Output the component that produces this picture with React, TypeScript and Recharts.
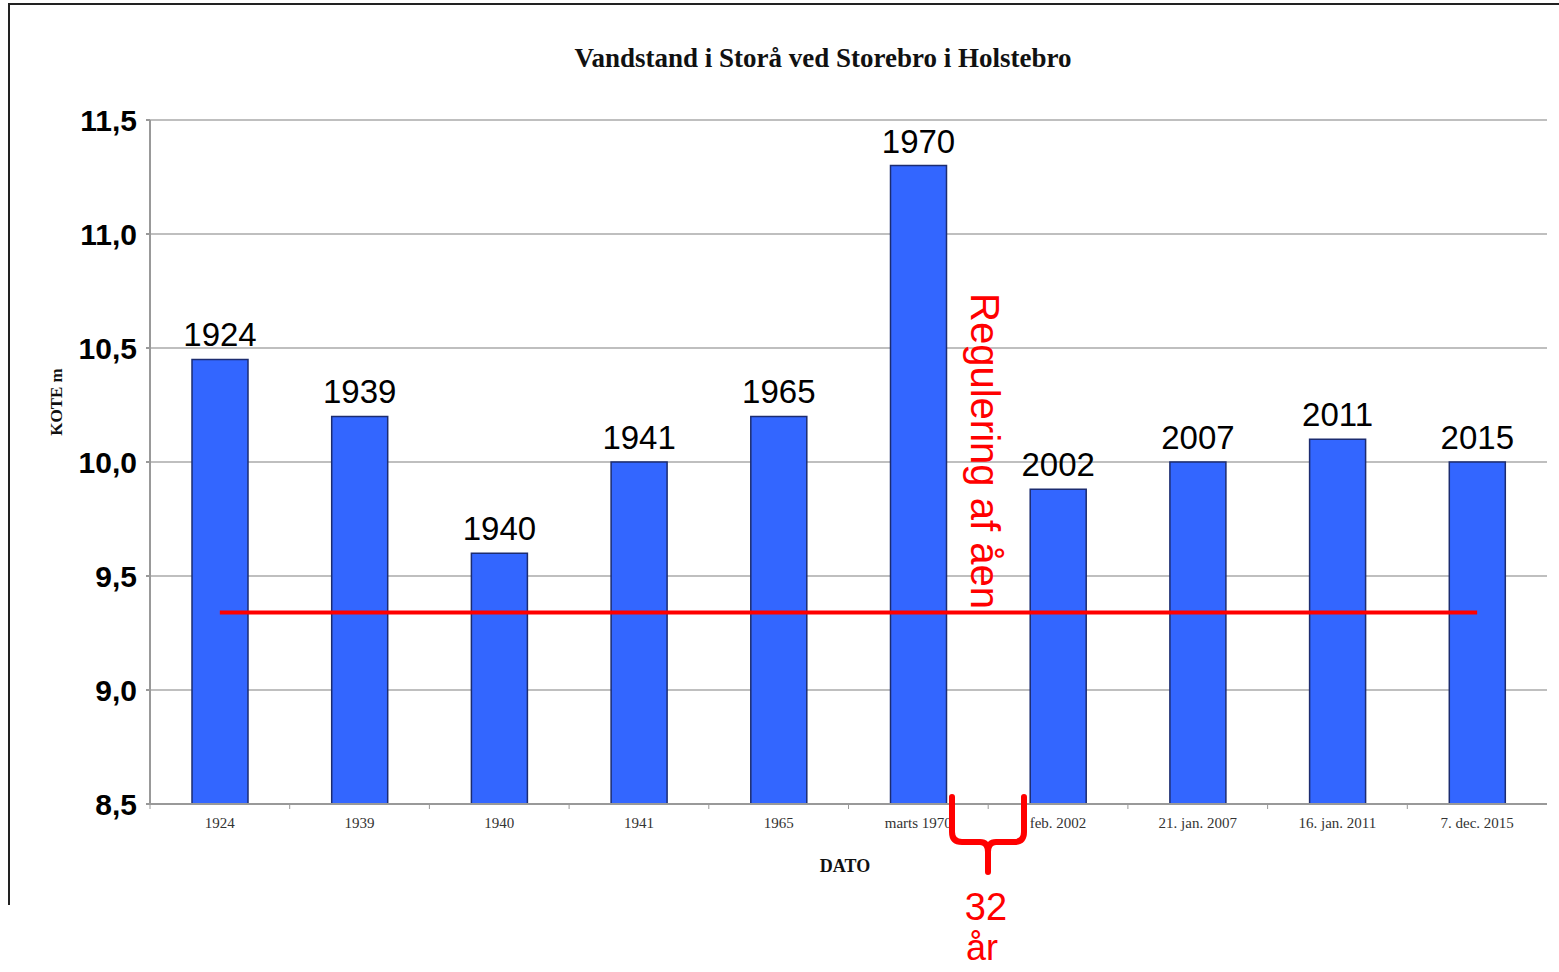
import { BarChart, Bar, XAxis, YAxis, CartesianGrid, ReferenceLine, LabelList } from 'recharts';

// vandstand (kote m) ved hver hændelse
const dates = ['1924', '1939', '1940', '1941', '1965', 'marts 1970', 'feb. 2002', '21. jan. 2007', '16. jan. 2011', '7. dec. 2015'];
const years = ['1924', '1939', '1940', '1941', '1965', '1970', '2002', '2007', '2011', '2015'];
const levels = [10.45, 10.2, 9.6, 10.0, 10.2, 11.3, 9.88, 10.0, 10.1, 10.0];
const yTicks = [8.5, 9.0, 9.5, 10.0, 10.5, 11.0, 11.5];
const normalLevel = 9.34;

const data = dates.map((d, i) => ({ dato: d, year: years[i], kote: levels[i] }));

const serif = '"Liberation Serif", "DejaVu Serif", serif';
const sans = '"Liberation Sans", Arial, sans-serif';
const red = '#ff0000';

const fmt = (v: number) => v.toFixed(1).replace('.', ',');

function DateTick(props: any) {
  const { x, y, payload } = props;
  const off = payload.offset || 0;
  return (
    <g>
      <line x1={x - off} x2={x - off} y1={y - 8} y2={y - 3} stroke="#999" />
      <text x={x} y={y + 16} textAnchor="middle" fontFamily={serif} fontSize={15} fill="#333">
        {payload.value}
      </text>
    </g>
  );
}

export default function App() {
  return (
    <div style={{ position: 'absolute', left: 0, top: 0, width: 1559, height: 972, background: '#fff', overflow: 'hidden' }}>
      {/* ramme */}
      <div style={{ position: 'absolute', left: 8, top: 3, width: 1551, height: 900, borderLeft: '2px solid #222', borderTop: '2px solid #222' }} />
      <BarChart width={1559} height={972} data={data} margin={{ top: 120, right: 12, bottom: 108, left: 0 }}>
        <CartesianGrid vertical={false} stroke="#aaa" strokeWidth={1.5} />
        <XAxis
          dataKey="dato"
          height={60}
          stroke="#999"
          strokeWidth={2}
          tickLine={false}
          tick={<DateTick />}
          interval={0}
        />
        <YAxis
          width={150}
          domain={[8.5, 11.5]}
          ticks={yTicks}
          tickFormatter={fmt}
          stroke="#999"
          strokeWidth={2}
          tickSize={4}
          tickMargin={9}
          tick={{ fontFamily: sans, fontSize: 30, fontWeight: 'bold', fill: '#000' }}
        />
        <Bar dataKey="kote" fill="#3366ff" stroke="#1c2c70" strokeWidth={1.5} barSize={56} isAnimationActive={false}>
          <LabelList dataKey="year" position="top" offset={13} fontFamily={sans} fontSize={33} fill="#000" />
        </Bar>
        <ReferenceLine
          segment={[{ x: dates[0], y: normalLevel }, { x: dates[dates.length - 1], y: normalLevel }]}
          stroke={red}
          strokeWidth={4}
        />
      </BarChart>

      <div style={{ position: 'absolute', left: 0, width: 1646, top: 43, textAlign: 'center', fontFamily: serif, fontWeight: 'bold', fontSize: 27, color: '#111' }}>
        Vandstand i Storå ved Storebro i Holstebro
      </div>
      <div style={{ position: 'absolute', left: 0, width: 1690, top: 856, textAlign: 'center', fontFamily: serif, fontWeight: 'bold', fontSize: 18, color: '#111' }}>
        DATO
      </div>
      <div style={{ position: 'absolute', left: 57, top: 402, transform: 'translate(-50%, -50%) rotate(-90deg)', fontFamily: serif, fontWeight: 'bold', fontSize: 17, color: '#111', whiteSpace: 'nowrap' }}>
        KOTE m
      </div>

      {/* annotation: regulering */}
      <div style={{ position: 'absolute', left: 984, top: 451, transform: 'translate(-50%, -50%) rotate(90deg)', fontFamily: sans, fontSize: 40, color: red, whiteSpace: 'nowrap' }}>
        Regulering af åen
      </div>
      <svg style={{ position: 'absolute', left: 0, top: 0 }} width={1559} height={972}>
        <path
          d="M952 797 L952 832 Q952 842 962 842 L980 842 Q988 842 988 852 L988 872 M1024 797 L1024 832 Q1024 842 1014 842 L996 842 Q988 842 988 852"
          fill="none"
          stroke={red}
          strokeWidth={6}
          strokeLinecap="round"
        />
      </svg>
      <div style={{ position: 'absolute', left: 936, width: 100, top: 888, textAlign: 'center', fontFamily: sans, fontSize: 38, color: red, lineHeight: '38px' }}>
        32
      </div>
      <div style={{ position: 'absolute', left: 932, width: 100, top: 930, textAlign: 'center', fontFamily: sans, fontSize: 36, color: red, lineHeight: '36px' }}>
        år
      </div>
    </div>
  );
}
